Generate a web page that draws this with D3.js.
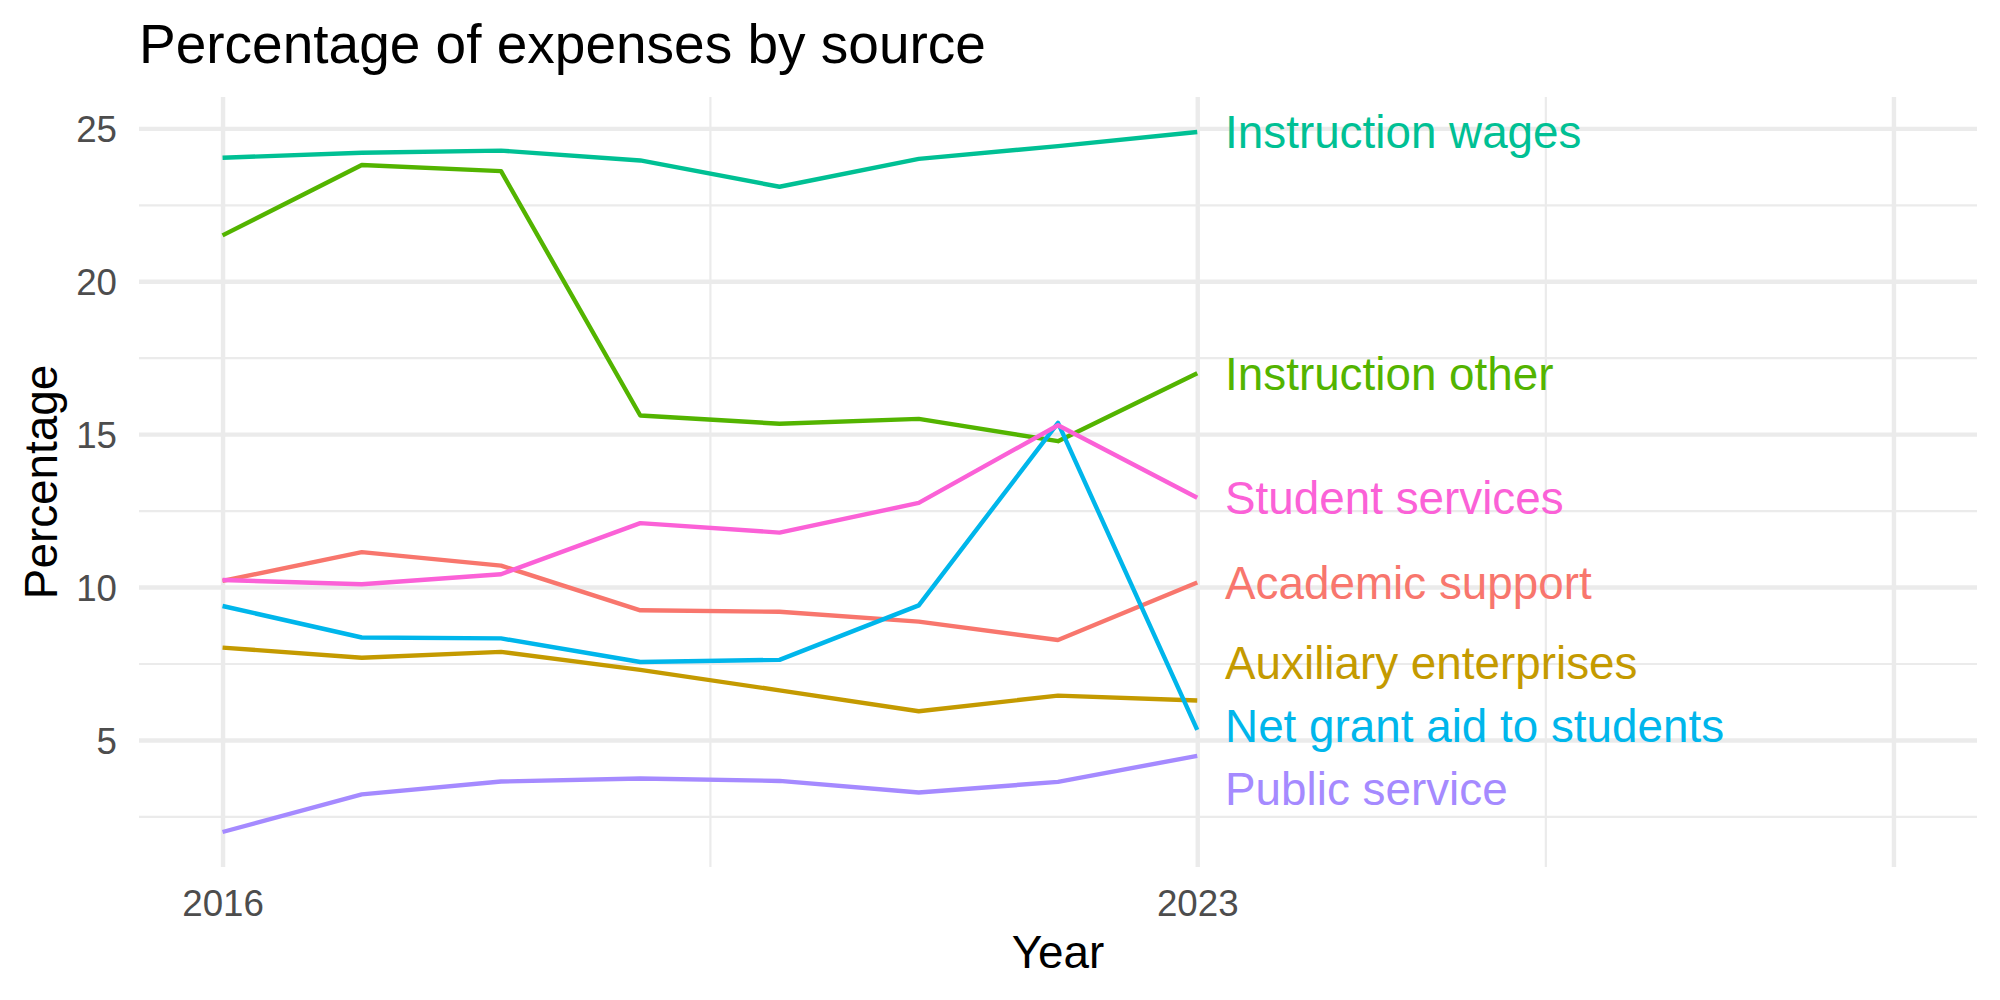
<!DOCTYPE html>
<html>
<head>
<meta charset="utf-8">
<script src="https://cdn.jsdelivr.net/npm/d3@7"></script>
<style>
	body { margin: 0; background: #fff; }
	text { font-family: "Liberation Sans", Arial, Helvetica, sans-serif; }
	.grid .domain { display: none; }
	.grid line { stroke: #EBEBEB; }
	.labels .domain, .labels line { display: none; }
</style>
</head>
<body>
<div id="chart-area"></div>
<script>

// Years on the x axis
const years = [2016, 2017, 2018, 2019, 2020, 2021, 2022, 2023];

// Series names (alphabetical, as the colour scale is assigned)
const categories = [
	"Academic support",
	"Auxiliary enterprises",
	"Instruction other",
	"Instruction wages",
	"Net grant aid to students",
	"Public service",
	"Student services"
];

// Values per series, one per year (percent)
const academicSupport   = [10.20, 11.14, 10.70, 9.24, 9.19, 8.87, 8.27, 10.15];
const auxiliary         = [8.02, 7.69, 7.88, 7.29, 6.62, 5.94, 6.45, 6.29];
const instructionOther  = [21.50, 23.80, 23.60, 15.61, 15.34, 15.50, 14.77, 16.99];
const instructionWages  = [24.04, 24.20, 24.27, 23.95, 23.09, 24.00, 24.42, 24.88];
const netGrantAid       = [9.38, 8.35, 8.32, 7.55, 7.62, 9.40, 15.37, 5.33];
const publicService     = [1.99, 3.22, 3.64, 3.74, 3.66, 3.28, 3.63, 4.48];
const studentServices   = [10.23, 10.09, 10.42, 12.09, 11.78, 12.75, 15.29, 12.92];

const seriesValues = [academicSupport, auxiliary, instructionOther, instructionWages,
	netGrantAid, publicService, studentServices];

// end-of-line label positions (after repelling)
const labelYear = 2023.2;
const labelY = [10.15, 7.54, 16.99, 24.88, 5.46, 3.41, 12.92];

// ggplot hue palette for 7 groups
const colors = ["#F8766D", "#C49A00", "#53B400", "#00C094", "#00B6EB", "#A58AFF", "#FB61D7"];

// axis breaks
const xBreaks = [2016, 2023, 2028];
const xLabels = ["2016", "2023", ""];
const xMinor = [2019.5, 2025.5];
const yBreaks = [5, 10, 15, 20, 25];
const yMinor = [2.5, 7.5, 12.5, 17.5, 22.5];

const data = categories.map((name, i) => ({
	name: name,
	color: colors[i],
	labelY: labelY[i],
	values: years.map((yr, j) => ({ year: yr, value: seriesValues[i][j] }))
}));

drawChart(data);

function drawChart(data) {

	let W = 2000, H = 1000;
	let panel = { left: 139, right: 1977, top: 97, bottom: 867 };
	let width = panel.right - panel.left,
		height = panel.bottom - panel.top;

	let svg = d3.select("#chart-area").append("svg")
		.attr("width", W)
		.attr("height", H);

	// x scale with ggplot-style 5% expansion of [2016, 2028]
	let xr = [2016, 2028];
	let xpad = (xr[1] - xr[0]) * 0.05;
	let x = d3.scaleLinear()
		.domain([xr[0] - xpad, xr[1] + xpad])
		.range([panel.left, panel.right]);

	// y scale, expanded 5% around the data range
	let allVals = seriesValues.flat();
	let yr = d3.extent(allVals);
	let ypad = (yr[1] - yr[0]) * 0.05;
	let y = d3.scaleLinear()
		.domain([yr[0] - ypad, yr[1] + ypad])
		.range([panel.bottom, panel.top]);

	// grid lines
	svg.append("g")
		.attr("class", "grid")
		.attr("transform", "translate(" + panel.left + ",0)")
		.call(d3.axisLeft(y).tickValues(yMinor).tickSize(-width).tickFormat(""))
		.selectAll("line").attr("stroke-width", 2.2);

	svg.append("g")
		.attr("class", "grid")
		.attr("transform", "translate(0," + panel.bottom + ")")
		.call(d3.axisBottom(x).tickValues(xMinor).tickSize(-height).tickFormat(""))
		.selectAll("line").attr("stroke-width", 2.2);

	svg.append("g")
		.attr("class", "grid")
		.attr("transform", "translate(" + panel.left + ",0)")
		.call(d3.axisLeft(y).tickValues(yBreaks).tickSize(-width).tickFormat(""))
		.selectAll("line").attr("stroke-width", 4.4);

	svg.append("g")
		.attr("class", "grid")
		.attr("transform", "translate(0," + panel.bottom + ")")
		.call(d3.axisBottom(x).tickValues(xBreaks).tickSize(-height).tickFormat(""))
		.selectAll("line").attr("stroke-width", 4.4);

	// lines
	let line = d3.line()
		.x(d => x(d.year))
		.y(d => y(d.value));

	svg.selectAll(".series")
		.data(data)
		.enter()
		.append("path")
		.attr("class", "series")
		.attr("d", d => line(d.values))
		.attr("fill", "none")
		.attr("stroke", d => d.color)
		.attr("stroke-width", 4.4)
		.attr("stroke-linejoin", "round")
		.attr("stroke-linecap", "butt");

	// end labels
	svg.selectAll(".end-label")
		.data(data)
		.enter()
		.append("text")
		.attr("class", "end-label")
		.attr("x", x(labelYear))
		.attr("y", d => y(d.labelY))
		.attr("dy", "0.36em")
		.attr("fill", d => d.color)
		.style("font-size", "45.8px")
		.text(d => d.name);

	// tick labels
	let yAxis = svg.append("g")
		.attr("class", "labels")
		.attr("transform", "translate(" + (panel.left - 22) + ",0)")
		.call(d3.axisLeft(y).tickValues(yBreaks).tickSize(0).tickPadding(0));
	yAxis.selectAll("text")
		.attr("dy", "0.36em")
		.attr("fill", "#4D4D4D")
		.style("font-size", "36.7px")
		.style("font-family", "'Liberation Sans', Arial, sans-serif");

	let xAxis = svg.append("g")
		.attr("class", "labels")
		.attr("transform", "translate(0," + panel.bottom + ")")
		.call(d3.axisBottom(x).tickValues(xBreaks).tickFormat((d, i) => xLabels[i]).tickSize(0).tickPadding(0));
	xAxis.selectAll("text")
		.attr("y", 49)
		.attr("dy", 0)
		.attr("fill", "#4D4D4D")
		.style("font-size", "36.7px")
		.style("font-family", "'Liberation Sans', Arial, sans-serif");

	// axis titles
	svg.append("text")
		.attr("x", (panel.left + panel.right) / 2)
		.attr("y", 968)
		.attr("text-anchor", "middle")
		.style("font-size", "45.8px")
		.text("Year");

	svg.append("text")
		.attr("transform", "translate(57," + ((panel.top + panel.bottom) / 2) + ") rotate(-90)")
		.attr("text-anchor", "middle")
		.style("font-size", "45.8px")
		.text("Percentage");

	// title
	svg.append("text")
		.attr("x", panel.left)
		.attr("y", 63)
		.style("font-size", "55px")
		.text("Percentage of expenses by source");
}
</script>
</body>
</html>
